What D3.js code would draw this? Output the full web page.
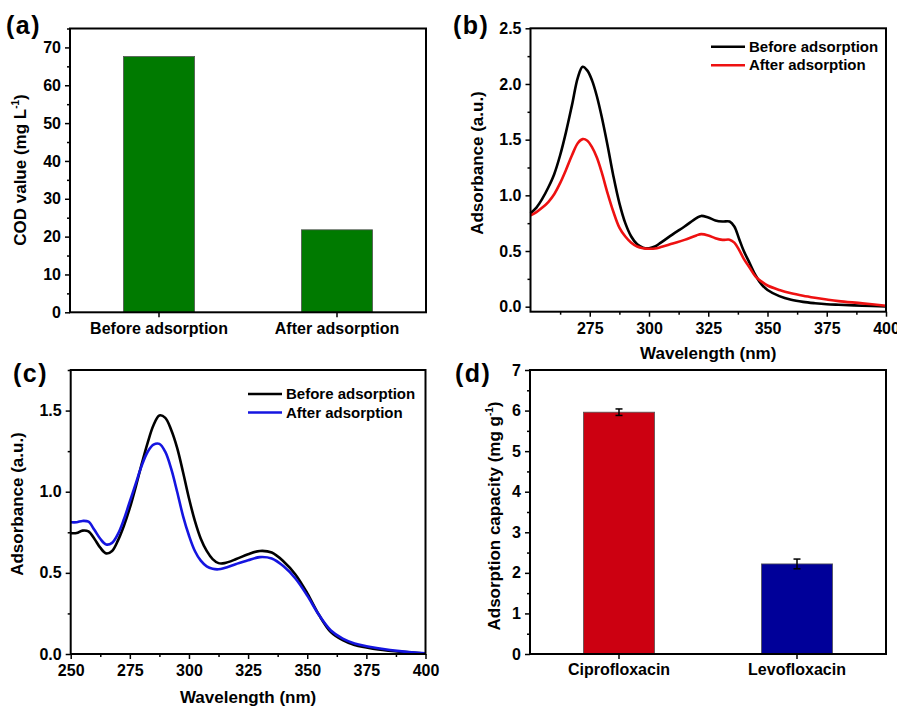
<!DOCTYPE html>
<html>
<head>
<meta charset="utf-8">
<script src="https://cdn.jsdelivr.net/npm/d3@7"></script>
<style>
  body { margin: 0; background: #fff; }
  text { font-family: "Liberation Sans", Arial, sans-serif; font-weight: bold; fill: #000; }
</style>
</head>
<body>
<svg id="fig" width="897" height="708"></svg>
<script>
// (a) COD values
const codCategories = ["Before adsorption", "After adsorption"];
const codValues = [67.6, 21.8];

// (b) UV-vis spectra, ciprofloxacin
const bWave = [250, 252.5, 255, 257.5, 260, 262.5, 265, 267.5, 270, 272, 274, 276, 278, 280, 282.5, 285, 287.5, 290, 292.5, 295, 297.5, 300, 302.5, 305, 310, 315, 320, 322, 325, 328, 331, 334, 336, 338, 340, 342.5, 345, 347.5, 350, 355, 360, 365, 370, 375, 380, 390, 400];
const bBefore = [0.84, 0.89, 0.97, 1.07, 1.19, 1.36, 1.57, 1.81, 2.06, 2.155, 2.12, 2.03, 1.89, 1.71, 1.45, 1.17, 0.93, 0.75, 0.63, 0.56, 0.53, 0.525, 0.54, 0.575, 0.65, 0.72, 0.795, 0.815, 0.80, 0.775, 0.765, 0.765, 0.72, 0.61, 0.50, 0.39, 0.28, 0.20, 0.15, 0.095, 0.062, 0.043, 0.031, 0.022, 0.017, 0.009, 0.002];
const bAfter = [0.82, 0.85, 0.89, 0.94, 1.01, 1.11, 1.23, 1.36, 1.47, 1.505, 1.49, 1.43, 1.34, 1.21, 1.02, 0.85, 0.71, 0.63, 0.575, 0.54, 0.525, 0.52, 0.522, 0.535, 0.568, 0.60, 0.64, 0.652, 0.64, 0.615, 0.60, 0.602, 0.575, 0.51, 0.43, 0.35, 0.27, 0.225, 0.19, 0.15, 0.12, 0.098, 0.08, 0.064, 0.05, 0.03, 0.008];

// (c) UV-vis spectra, levofloxacin
const cWave = [250, 252.5, 255, 257.5, 260, 262.5, 265, 267.5, 270, 272.5, 275, 277.5, 280, 282.5, 285, 287.5, 290, 292.5, 295, 297.5, 300, 302.5, 305, 307.5, 310, 312.5, 315, 320, 325, 330, 335, 340, 345, 350, 355, 360, 365, 370, 375, 380, 390, 400];
const cBefore = [0.745, 0.745, 0.76, 0.755, 0.71, 0.655, 0.62, 0.635, 0.70, 0.79, 0.90, 1.03, 1.17, 1.30, 1.41, 1.47, 1.455, 1.38, 1.27, 1.12, 0.96, 0.82, 0.71, 0.635, 0.585, 0.56, 0.56, 0.585, 0.615, 0.635, 0.625, 0.57, 0.49, 0.375, 0.24, 0.135, 0.085, 0.055, 0.04, 0.028, 0.013, 0.003];
const cAfter = [0.812, 0.812, 0.82, 0.815, 0.765, 0.71, 0.675, 0.685, 0.74, 0.83, 0.94, 1.05, 1.16, 1.245, 1.29, 1.295, 1.245, 1.14, 1.00, 0.85, 0.73, 0.635, 0.575, 0.54, 0.525, 0.522, 0.53, 0.555, 0.578, 0.597, 0.588, 0.54, 0.465, 0.36, 0.24, 0.145, 0.095, 0.065, 0.048, 0.035, 0.016, 0.004];

// (d) adsorption capacity
const capCategories = ["Ciprofloxacin", "Levofloxacin"];
const capValues = [5.96, 2.22];
const capErrors = [0.08, 0.12];

const seriesNames = ["Before adsorption", "After adsorption"];

const svg = d3.select("#fig");
svg.append("rect").attr("width", 897).attr("height", 708).attr("fill", "#fff");

function panelLabel(txt, x, y) {
  svg.append("text").attr("x", x).attr("y", y)
    .attr("font-size", 25).attr("letter-spacing", 1.5).text(txt);
}

// rotated y title with a superscript part
function yTitle(x, y, main, sup, tail) {
  const t = svg.append("text")
    .attr("transform", `translate(${x},${y}) rotate(-90)`)
    .attr("text-anchor", "middle")
    .attr("font-size", 17);
  t.append("tspan").text(main);
  if (sup) {
    t.append("tspan").attr("dy", -7).attr("font-size", 10).text(sup);
    t.append("tspan").attr("dy", 7).text(tail);
  }
}

function styleAxis(g) {
  g.select(".domain").remove();
  g.selectAll(".tick line").attr("stroke", "#000").attr("stroke-width", 1.5);
  g.selectAll("text").attr("font-size", 16).attr("font-family", null);
}

function frame(x0, y0, x1, y1) {
  svg.append("rect")
    .attr("x", x0).attr("y", y0)
    .attr("width", x1 - x0).attr("height", y1 - y0)
    .attr("fill", "none").attr("stroke", "#000").attr("stroke-width", 2);
}

function barPanel(p) {
  const x = d3.scaleBand().domain(p.cats).range([p.x0, p.x1]).paddingInner(0.6).paddingOuter(0.3);
  const y = d3.scaleLinear().domain(p.yDomain).range([p.y1, p.y0]);

  svg.append("g").selectAll("rect").data(p.values).join("rect")
    .attr("x", (d, i) => x(p.cats[i]))
    .attr("y", d => y(d))
    .attr("width", x.bandwidth())
    .attr("height", d => y(0) - y(d))
    .attr("fill", (d, i) => p.colors[i])
    .attr("stroke", "#555").attr("stroke-width", 0.8);

  if (p.errors) {
    const eb = svg.append("g").attr("stroke", "#000").attr("stroke-width", 1.5);
    p.values.forEach((v, i) => {
      const cx = x(p.cats[i]) + x.bandwidth() / 2;
      eb.append("line").attr("x1", cx).attr("x2", cx).attr("y1", y(v - p.errors[i])).attr("y2", y(v + p.errors[i]));
      [v - p.errors[i], v + p.errors[i]].forEach(e => {
        eb.append("line").attr("x1", cx - 3.5).attr("x2", cx + 3.5).attr("y1", y(e)).attr("y2", y(e));
      });
    });
  }

  svg.append("g").attr("transform", `translate(${p.x0},0)`)
    .call(d3.axisLeft(y).tickValues(p.yMinor).tickSize(3).tickFormat(""))
    .call(styleAxis);
  svg.append("g").attr("transform", `translate(${p.x0},0)`)
    .call(d3.axisLeft(y).tickValues(p.yTicks).tickSize(5).tickPadding(4).tickFormat(p.yFormat))
    .call(styleAxis);
  svg.append("g").attr("transform", `translate(0,${p.y1})`)
    .call(d3.axisBottom(x).tickSize(5).tickPadding(5))
    .call(styleAxis);

  frame(p.x0, p.y0, p.x1, p.y1);
}

function linePanel(p) {
  const x = d3.scaleLinear().domain([250, 400]).range([p.x0, p.x1]);
  const y = d3.scaleLinear().domain(p.yDomain).range([p.y1, p.y0]);
  const line = d3.line().x(d => x(d[0])).y(d => y(d[1])).curve(d3.curveCatmullRom.alpha(0.5));

  p.series.forEach((s, i) => {
    svg.append("path")
      .datum(p.wave.map((w, j) => [w, s[j]]))
      .attr("d", line)
      .attr("fill", "none")
      .attr("stroke", p.colors[i])
      .attr("stroke-width", 2.6)
      .attr("stroke-linejoin", "round");
  });

  const xMinor = d3.range(262.5, 400, 25);
  const yMinor = d3.range(0.25, p.yDomain[1] + 0.001, 0.5);
  svg.append("g").attr("transform", `translate(${p.x0},0)`)
    .call(d3.axisLeft(y).tickValues(yMinor).tickSize(3).tickFormat(""))
    .call(styleAxis);
  svg.append("g").attr("transform", `translate(${p.x0},0)`)
    .call(d3.axisLeft(y).tickValues(p.yTicks).tickSize(5).tickPadding(4).tickFormat(d3.format(".1f")))
    .call(styleAxis);
  svg.append("g").attr("transform", `translate(0,${p.y1})`)
    .call(d3.axisBottom(x).tickValues(xMinor).tickSize(3).tickFormat(""))
    .call(styleAxis);
  svg.append("g").attr("transform", `translate(0,${p.y1})`)
    .call(d3.axisBottom(x).tickValues(p.xTicks).tickSize(5).tickPadding(6).tickFormat(d3.format("d")))
    .call(styleAxis);

  frame(p.x0, p.y0, p.x1, p.y1);

  svg.append("text")
    .attr("x", (p.x0 + p.x1) / 2).attr("y", p.xTitleY)
    .attr("text-anchor", "middle").attr("font-size", 17)
    .text("Wavelength (nm)");

  const lg = svg.append("g").attr("transform", `translate(${p.legend[0]},${p.legend[1]})`);
  seriesNames.forEach((n, i) => {
    lg.append("line").attr("x1", 0).attr("x2", 34).attr("y1", i * 18.5).attr("y2", i * 18.5)
      .attr("stroke", p.colors[i]).attr("stroke-width", 2.6);
    lg.append("text").attr("x", 38).attr("y", i * 18.5 + 5.2).attr("font-size", 15).text(n);
  });
}

// (a)
barPanel({
  x0: 70, x1: 426, y0: 28.5, y1: 312.3,
  cats: codCategories, values: codValues, colors: ["#007a00", "#007a00"],
  yDomain: [0, 75], yTicks: d3.range(0, 71, 10), yMinor: d3.range(5, 76, 10), yFormat: d3.format("d")
});
panelLabel("(a)", 6, 34);
yTitle(26, 170, "COD value (mg L", "-1", ")");

// (b)
linePanel({
  x0: 530.5, x1: 886, y0: 28.3, y1: 311.7,
  wave: bWave, series: [bBefore, bAfter], colors: ["#000000", "#ee1111"],
  yDomain: [-0.045, 2.5], yTicks: d3.range(0, 2.51, 0.5),
  xTicks: [275, 300, 325, 350, 375, 400], xTitleY: 359, legend: [711, 46.7]
});
panelLabel("(b)", 453, 34);
yTitle(483, 163, "Adsorbance (a.u.)");

// (c)
linePanel({
  x0: 70.7, x1: 425.5, y0: 370, y1: 654,
  wave: cWave, series: [cBefore, cAfter], colors: ["#000000", "#1515e0"],
  yDomain: [0, 1.75], yTicks: d3.range(0, 1.51, 0.5),
  xTicks: [250, 275, 300, 325, 350, 375, 400], xTitleY: 703, legend: [248, 394]
});
panelLabel("(c)", 13, 382);
yTitle(23, 504, "Adsorbance (a.u.)");

// (d)
barPanel({
  x0: 530, x1: 886, y0: 370, y1: 654,
  cats: capCategories, values: capValues, errors: capErrors, colors: ["#cc0011", "#000099"],
  yDomain: [0, 7], yTicks: d3.range(0, 8, 1), yMinor: d3.range(0.5, 7, 1), yFormat: d3.format("d")
});
panelLabel("(d)", 455, 382);
yTitle(500, 516, "Adsorption capacity (mg g", "-1", ")");
</script>
</body>
</html>
